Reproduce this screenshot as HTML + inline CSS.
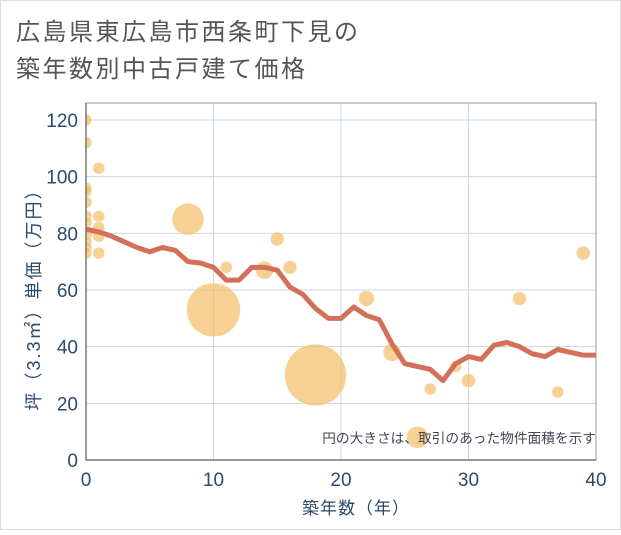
<!DOCTYPE html>
<html><head><meta charset="utf-8"><style>
body{margin:0;background:#fff}
svg text{font-family:"Liberation Sans","Noto Sans CJK JP",sans-serif}
</style></head><body>
<svg width="621" height="530">
<defs><clipPath id="pc"><rect x="86" y="103" width="510" height="357"/></clipPath></defs>
<rect x="0.5" y="0.5" width="620" height="529" fill="#fff" stroke="#ddd"/>
<text x="16" y="40" font-size="24" letter-spacing="2.5" fill="#555">広島県東広島市西条町下見の</text>
<text x="16" y="77" font-size="24" letter-spacing="2.5" fill="#555">築年数別中古戸建て価格</text>
<g id="grid"></g>
<g id="bubbles" clip-path="url(#pc)"></g>
<g id="line" clip-path="url(#pc)"></g>
<g id="axes"></g>
<text x="596" y="443" font-size="13.7" fill="#445" text-anchor="end">円の大きさは、取引のあった物件面積を示す</text>
<text x="356" y="514" font-size="17" letter-spacing="1" fill="#2c4a6b" text-anchor="middle">築年数（年）</text>
<text transform="translate(40,295) rotate(-90)" font-size="18" letter-spacing="2" fill="#2c4a6b" text-anchor="middle">坪（3.3㎡）単価（万円）</text>
</svg>
<script>
const xTicks=[0,10,20,30,40];
const yTicks=[0,20,40,60,80,100,120];
const lineYears=[0,1,2,3,4,5,6,7,8,9,10,11,12,13,14,15,16,17,18,19,20,21,22,23,24,25,26,27,28,29,30,31,32,33,34,35,36,37,38,39,40];
const lineValues=[81.5,80.5,79,77,75,73.5,75,74,70,69.5,68,63.5,63.5,68,68,67,61,58.5,53.5,50,50,54,51,49.5,41,34,33,32,28,34,36.5,35.5,40.5,41.5,40,37.5,36.5,39,38,37,37];
const bubbleX=[0,0,1,0,0,0,0,1,1,0,0,1,0,0,1,0,8,10,11,14,15,16,18,22,24,26,27,29,30,34,37,39];
const bubbleY=[120,112,103,96,95,91,86,86,82,84,80,79,77,75,73,73,85,53,68,67,78,68,30,57,38,8,25,33,28,57,24,73];
const bubbleR=[6,6,6,6,6,6,6,6,6,6,7,6,6,6,6,6,16,27,6,9,7,7,31,8,9,11,6,6,7,7,6,7];
const L=86,R=596,T=103,B=460;
const sx=v=>L+(v-0)/(40-0)*(R-L);
const sy=v=>B-v/126*(B-T);
const NS="http://www.w3.org/2000/svg";
function mk(tag,attrs,parent){const e=document.createElementNS(NS,tag);for(const k in attrs)e.setAttribute(k,attrs[k]);parent.appendChild(e);return e;}
const grid=document.getElementById('grid');
xTicks.forEach(t=>{const e=mk('line',{x1:sx(t),x2:sx(t),y1:T,y2:B,stroke:'#c8d4e3','stroke-width':1},grid);

});
yTicks.forEach(t=>{const e=mk('line',{x1:L,x2:R,y1:sy(t),y2:sy(t),stroke:'#c8d4e3','stroke-width':1},grid);

});
const bg=document.getElementById('bubbles');
bubbleX.forEach((x,i)=>{const c=mk('circle',{cx:sx(x),cy:sy(bubbleY[i]),r:bubbleR[i],fill:'#f3bd67','fill-opacity':0.7,stroke:'#fff','stroke-width':0.5},bg);

});
const lg=document.getElementById('line');
const p=mk('polyline',{points:lineYears.map((y,i)=>sx(y)+','+sy(lineValues[i])).join(' '),fill:'none',stroke:'#d4705a','stroke-width':5,'stroke-linejoin':'round'},lg);


const ax=document.getElementById('axes');
mk('rect',{x:L,y:T,width:R-L,height:B-T,fill:'none',stroke:'#999','stroke-width':1},ax);
mk('line',{x1:L,x2:L,y1:T,y2:B,stroke:'#777','stroke-width':1.5},ax);
mk('line',{x1:L,x2:R,y1:B,y2:B,stroke:'#777','stroke-width':1.5},ax);
xTicks.forEach(t=>{const e=mk('text',{x:sx(t),y:B+26,'font-size':19,fill:'#2c4a6b','text-anchor':'middle'},ax);e.textContent=t;

});
yTicks.forEach(t=>{const e=mk('text',{x:L-8,y:sy(t)+7,'font-size':19,fill:'#2c4a6b','text-anchor':'end'},ax);e.textContent=t;

});
</script>
</body></html>
